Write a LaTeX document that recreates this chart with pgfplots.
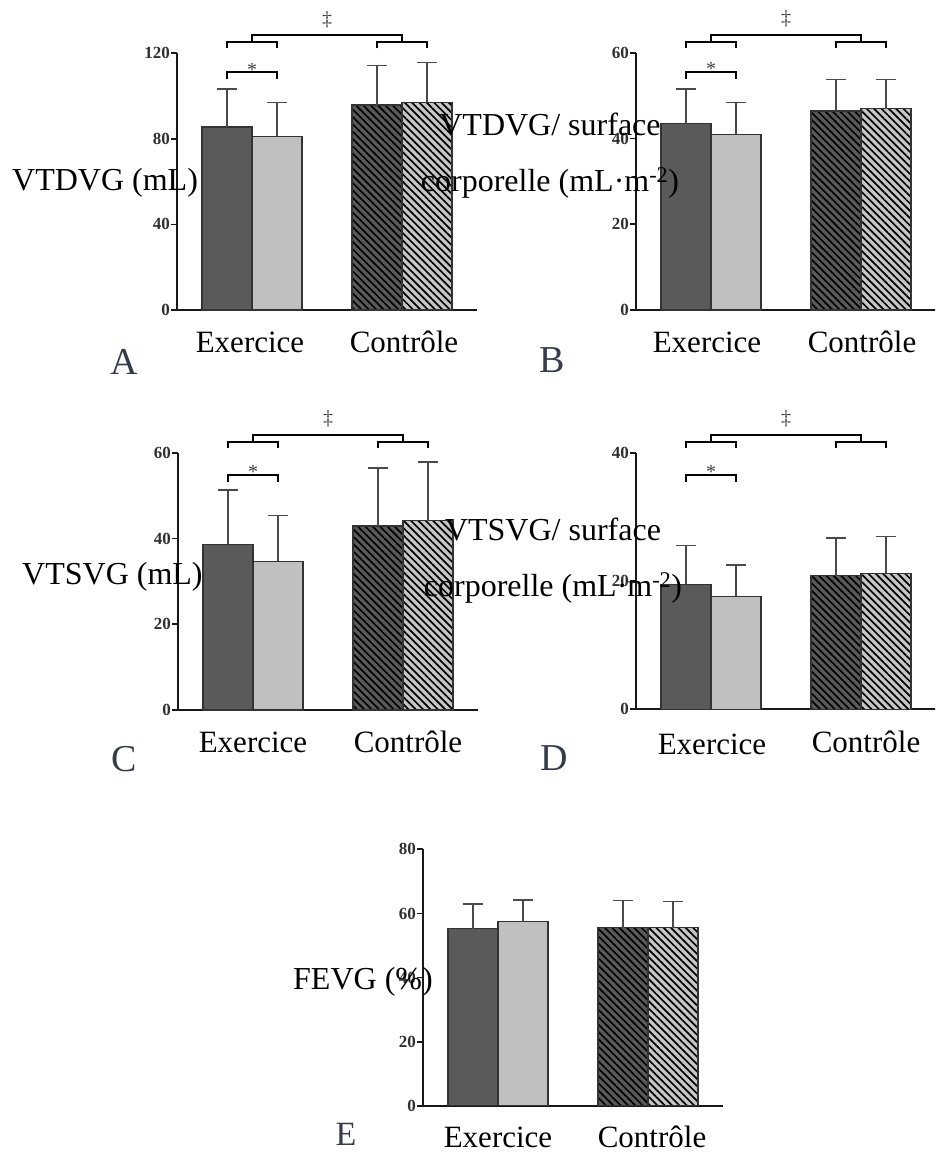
\documentclass[border=0pt]{standalone}
\usepackage{fontspec}
\setmainfont{Liberation Serif}
\usepackage{pgfplots}
\pgfplotsset{compat=1.18}
\usetikzlibrary{patterns.meta}

\definecolor{bardark}{HTML}{5A5A5A}
\definecolor{barlight}{HTML}{C0C0C0}
\definecolor{hatchlight}{HTML}{C6C6C6}
\definecolor{edge}{HTML}{333333}
\definecolor{errc}{HTML}{4A4A4A}
\definecolor{ticktext}{HTML}{303030}
\definecolor{panelletter}{RGB}{55,60,75}

\pgfplotsset{
  panel/.style={
    scale only axis, width=300pt,
    xmin=0.5, xmax=2.5, ymin=0,
    axis lines*=left,
    axis line style={line width=2pt, black!90},
    xtick=\empty,
    tick align=outside,
    major tick length=6pt,
    tick style={line width=1.8pt, black!90},
    yticklabel style={font=\fontsize{17}{17}\selectfont\bfseries, text=ticktext, inner sep=1pt},
    /pgf/number format/assume math mode=true,
    ybar, bar width=50pt,
    clip=false,
  },
  errs/.style={draw=edge, line width=1.2pt,
    error bars/y dir=plus, error bars/y explicit,
    error bars/error bar style={line width=1.5pt, errc},
    error bars/error mark options={rotate=90, line width=1.5pt, errc, mark size=10pt}},
  % Exercice: before (dark) and after (light); Controle: hatched
  exA/.style={errs, fill=bardark, bar shift=-25pt},
  exB/.style={errs, fill=barlight, bar shift=25pt},
  coA/.style={errs, fill=bardark, bar shift=-25pt,
    postaction={pattern={Lines[angle=-45, distance=5.2pt, line width=1.7pt]}, pattern color=black}},
  coB/.style={errs, fill=hatchlight, bar shift=25pt,
    postaction={pattern={Lines[angle=-45, distance=5.2pt, line width=1.7pt]}, pattern color=black}},
}

% significance brackets: #1 = top of the y axis, #2 = offset of the paired bracket
\newcommand{\sig}[2]{%
  \draw[line width=1.8pt] ([yshift=#2-7pt]axis cs:0.8333,#1) -- ([yshift=#2]axis cs:0.8333,#1)
     -- ([yshift=#2]axis cs:1.1667,#1) -- ([yshift=#2-7pt]axis cs:1.1667,#1);
  \node[anchor=base, inner sep=0pt, font=\fontsize{20}{20}\selectfont, text=black!75]
     at ([yshift=#2-4pt]axis cs:1,#1) {*};
  \draw[line width=1.8pt] ([yshift=5pt]axis cs:0.8333,#1) -- ([yshift=11pt]axis cs:0.8333,#1)
     -- ([yshift=11pt]axis cs:1.1667,#1) -- ([yshift=5pt]axis cs:1.1667,#1);
  \draw[line width=1.8pt] ([yshift=5pt]axis cs:1.8333,#1) -- ([yshift=11pt]axis cs:1.8333,#1)
     -- ([yshift=11pt]axis cs:2.1667,#1) -- ([yshift=5pt]axis cs:2.1667,#1);
  \draw[line width=1.8pt] ([yshift=11pt]axis cs:1,#1) -- ([yshift=18pt]axis cs:1,#1)
     -- ([yshift=18pt]axis cs:2,#1) -- ([yshift=11pt]axis cs:2,#1);
  \node[anchor=base, inner sep=0pt, font=\fontsize{20}{20}\selectfont, text=black!75]
     at ([yshift=28pt]axis cs:1.5,#1) {‡};
}

\newcommand{\lab}{\fontsize{32}{32}\selectfont}
\newcommand{\grp}{\fontsize{31}{31}\selectfont}
\newcommand{\pletter}{\fontsize{38}{38}\selectfont\color{panelletter}}

\begin{document}
\begin{tikzpicture}[x=1pt, y=1pt]
\useasboundingbox (0,0) rectangle (935,1154);
\clip (0,0) rectangle (935,1154);

% A: VTDVG (mL)
\begin{axis}[panel, at={(177pt,844pt)}, anchor=south west, height=256.7pt,
    ymax=120, ytick={0,40,80,120}]
  \addplot[exA] coordinates {(1,85.5) +- (0,17.8)};
  \addplot[exB] coordinates {(1,81.2) +- (0,15.7)};
  \addplot[coA] coordinates {(2,95.8) +- (0,18.6)};
  \addplot[coB] coordinates {(2,97.1) +- (0,18.7)};
  \sig{120}{-19pt}
\end{axis}

% B: VTDVG / surface corporelle
\begin{axis}[panel, at={(636pt,844pt)}, anchor=south west, height=257.3pt,
    ymax=60, ytick={0,20,40,60}]
  \addplot[exA] coordinates {(1,43.4) +- (0,8.1)};
  \addplot[exB] coordinates {(1,41.0) +- (0,7.4)};
  \addplot[coA] coordinates {(2,46.4) +- (0,7.4)};
  \addplot[coB] coordinates {(2,46.9) +- (0,6.8)};
  \sig{60}{-19pt}
\end{axis}

% C: VTSVG (mL)
\begin{axis}[panel, at={(178pt,444pt)}, anchor=south west, height=257.3pt,
    ymax=60, ytick={0,20,40,60}]
  \addplot[exA] coordinates {(1,38.6) +- (0,12.7)};
  \addplot[exB] coordinates {(1,34.7) +- (0,10.6)};
  \addplot[coA] coordinates {(2,42.9) +- (0,13.5)};
  \addplot[coB] coordinates {(2,44.1) +- (0,13.7)};
  \sig{60}{-22pt}
\end{axis}

% D: VTSVG / surface corporelle
\begin{axis}[panel, at={(636pt,444.7pt)}, anchor=south west, height=256.6pt,
    ymax=40, ytick={0,20,40}]
  \addplot[exA] coordinates {(1,19.5) +- (0,6.0)};
  \addplot[exB] coordinates {(1,17.6) +- (0,4.9)};
  \addplot[coA] coordinates {(2,20.8) +- (0,5.9)};
  \addplot[coB] coordinates {(2,21.2) +- (0,5.7)};
  \sig{40}{-22pt}
\end{axis}

% E: FEVG (%)
\begin{axis}[panel, at={(423pt,48.3pt)}, anchor=south west, height=256.3pt,
    ymax=80, ytick={0,20,40,60,80}]
  \addplot[exA] coordinates {(1,55.2) +- (0,7.8)};
  \addplot[exB] coordinates {(1,57.4) +- (0,6.8)};
  \addplot[coA] coordinates {(2,55.6) +- (0,8.5)};
  \addplot[coB] coordinates {(2,55.6) +- (0,8.1)};
\end{axis}

% axis titles
\node[anchor=base west, inner sep=0pt, font=\lab] at (12,963) {VTDVG (mL)};
\node[anchor=base, inner sep=0pt, font=\lab] at (550,1018) {VTDVG/ surface};
\node[anchor=base, inner sep=0pt, font=\lab] at (550,962) {corporelle (mL·m\textsuperscript{-2})};
\node[anchor=base west, inner sep=0pt, font=\lab] at (22,569) {VTSVG (mL)};
\node[anchor=base, inner sep=0pt, font=\lab] at (553,613) {VTSVG/ surface};
\node[anchor=base, inner sep=0pt, font=\lab] at (553,557) {corporelle (mL·m\textsuperscript{-2})};
\node[anchor=base west, inner sep=0pt, font=\lab] at (293,164) {FEVG (\%)};

% group names
\node[anchor=base, inner sep=0pt, font=\grp] at (250,801) {Exercice};
\node[anchor=base, inner sep=0pt, font=\grp] at (404,801) {Contrôle};
\node[anchor=base, inner sep=0pt, font=\grp] at (707,801) {Exercice};
\node[anchor=base, inner sep=0pt, font=\grp] at (862,801) {Contrôle};
\node[anchor=base, inner sep=0pt, font=\grp] at (253,401) {Exercice};
\node[anchor=base, inner sep=0pt, font=\grp] at (408,401) {Contrôle};
\node[anchor=base, inner sep=0pt, font=\grp] at (712,399) {Exercice};
\node[anchor=base, inner sep=0pt, font=\grp] at (866,401) {Contrôle};
\node[anchor=base, inner sep=0pt, font=\grp] at (498,6) {Exercice};
\node[anchor=base, inner sep=0pt, font=\grp] at (652,6) {Contrôle};

% panel letters
\node[anchor=base, inner sep=0pt, font=\pletter] at (124.5,779) {A};
\node[anchor=base, inner sep=0pt, font=\pletter] at (552.5,781) {B};
\node[anchor=base, inner sep=0pt, font=\pletter] at (124.5,382) {C};
\node[anchor=base, inner sep=0pt, font=\pletter] at (554,383) {D};
\node[anchor=base, inner sep=0pt, font=\fontsize{34}{34}\selectfont\color{panelletter}] at (346,9) {E};
\end{tikzpicture}
\end{document}
